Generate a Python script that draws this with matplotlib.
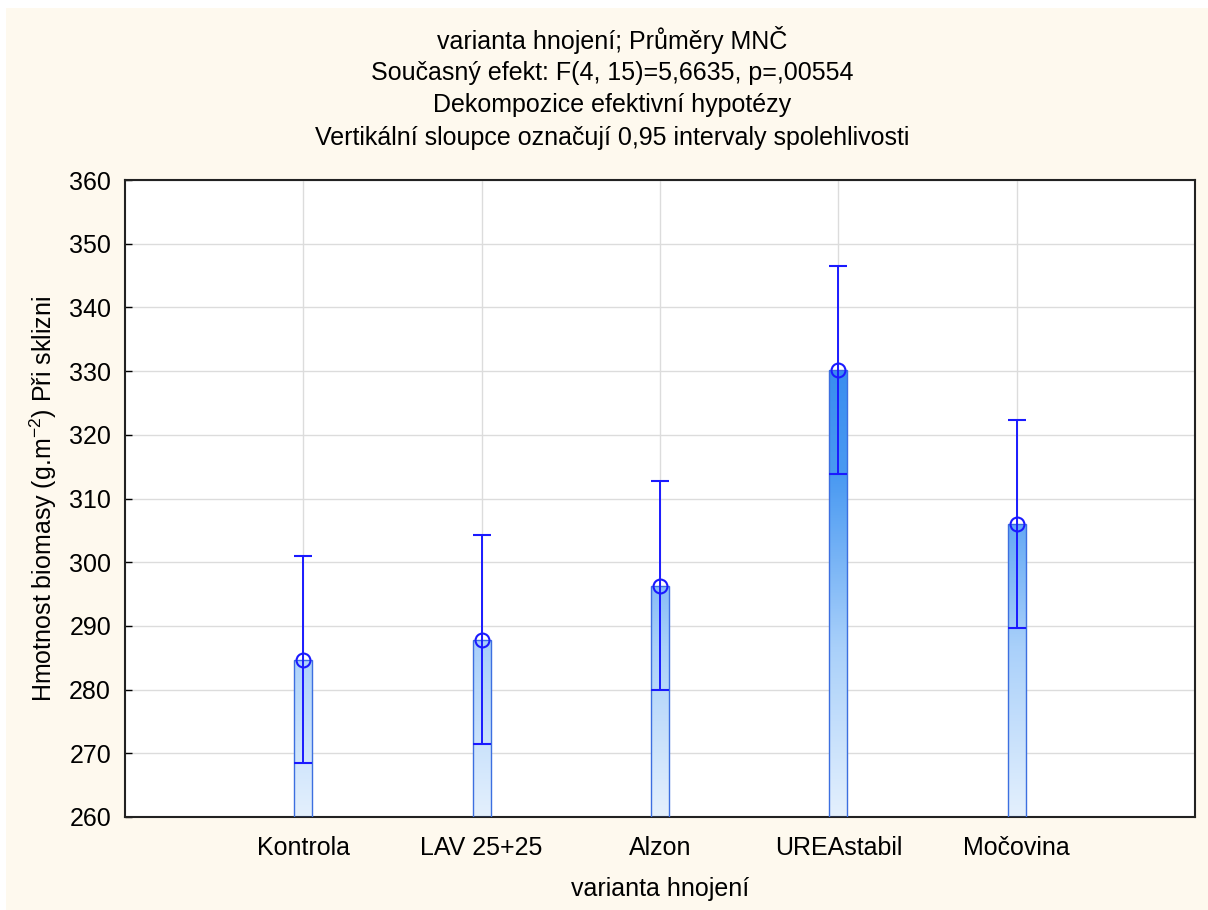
import matplotlib
matplotlib.use('Agg')
import matplotlib.pyplot as plt
import numpy as np
from matplotlib.colors import LinearSegmentedColormap
from matplotlib.patches import Rectangle

plt.rcParams['font.family'] = ['Liberation Sans', 'DejaVu Sans']
plt.rcParams['mathtext.fontset'] = 'custom'
plt.rcParams['mathtext.rm'] = 'Liberation Sans'
plt.rcParams['mathtext.it'] = 'Liberation Sans'

# data
categories = ['Kontrola', 'LAV 25+25', 'Alzon', 'UREAstabil', 'Močovina']
means = [284.7, 287.8, 296.3, 330.1, 306.0]
ci_low = [268.4, 271.5, 280.0, 313.8, 289.7]
ci_high = [301.0, 304.2, 312.8, 346.5, 322.3]

title_lines = ['varianta hnojení; Průměry MNČ',
               'Současný efekt: F(4, 15)=5,6635, p=,00554',
               'Dekompozice efektivní hypotézy',
               'Vertikální sloupce označují 0,95 intervaly spolehlivosti']

FS = 18

fig = plt.figure(figsize=(12.08, 9.10), dpi=100, facecolor='white')
# cream background with a thin white strip at top and left
fig.patches.append(Rectangle((6 / 1208, 0), 1, 1 - 8 / 910, transform=fig.transFigure,
                             facecolor='#fef9ee', edgecolor='none', zorder=-10))

ax = fig.add_axes([125 / 1208, 93 / 910, 1070 / 1208, 637 / 910])
ax.set_facecolor('white')

x = np.arange(1, len(categories) + 1)
ymin, ymax = 260, 360
barw = 0.1

cmap = LinearSegmentedColormap.from_list('blu', ['#e4f0fd', '#a9d0fa', '#4a9af2', '#2f86ee'])
grad = np.linspace(0, 1, 256).reshape(-1, 1)

for xi, m in zip(x, means):
    rect = Rectangle((xi - barw / 2, ymin), barw, m - ymin, facecolor='none',
                     edgecolor='#3c6fe0', linewidth=1.0, zorder=3)
    ax.add_patch(rect)
    im = ax.imshow(grad, cmap=cmap, origin='lower', aspect='auto',
                   extent=(xi - barw / 2, xi + barw / 2, ymin, 340),
                   vmin=0, vmax=1, zorder=2)
    im.set_clip_path(rect)

yerr = [np.array(means) - np.array(ci_low), np.array(ci_high) - np.array(means)]
ax.errorbar(x, means, yerr=yerr, fmt='o', color='#1a1aff', mfc='none', mec='#1a1aff',
            markersize=10, mew=1.5, elinewidth=1.4, capsize=6.2, capthick=1.4, zorder=4)

ax.set_xlim(0, 6)
ax.set_ylim(ymin, ymax)
ax.set_xticks(x)
ax.set_xticklabels(categories)
ax.set_yticks(np.arange(260, 361, 10))
ax.tick_params(direction='in', length=5, width=1, labelsize=FS, pad=10)
ax.tick_params(axis='x', pad=14)
ax.grid(True, color='#dcdcdc', linewidth=1)
ax.set_axisbelow(True)
for s in ax.spines.values():
    s.set_linewidth(1.5)
    s.set_color('#222222')

ax.set_xlabel('varianta hnojení', fontsize=FS, labelpad=12)
ax.set_ylabel('Hmotnost biomasy (g.m$^{\\mathrm{-2}}$) Při sklizni', fontsize=FS, labelpad=7)

for i, line in enumerate(title_lines):
    fig.text(612 / 1208, 1 - (40 + 32.7 * i) / 910, line, ha='center', va='center', fontsize=FS)

fig.savefig('out.png', dpi=100, facecolor=fig.get_facecolor())
